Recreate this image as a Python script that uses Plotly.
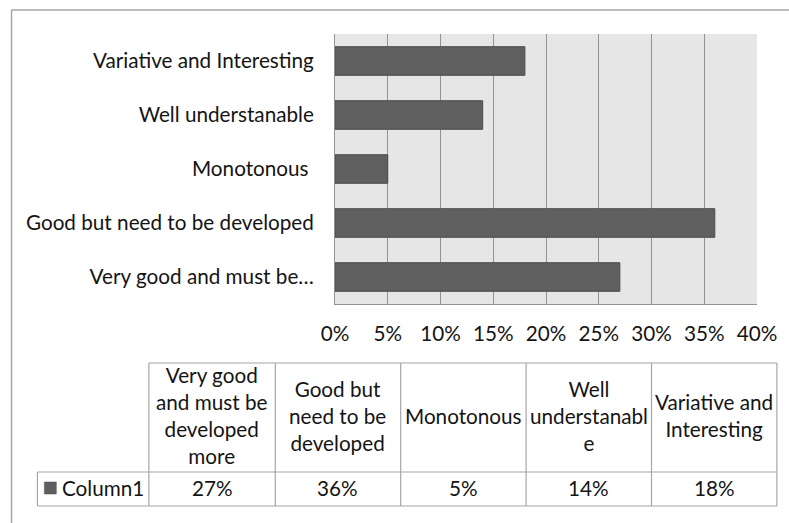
import plotly.graph_objects as go

# ---- data ----
categories = [
    "Very good and must be developed more",
    "Good but need to be developed",
    "Monotonous",
    "Well understanable",
    "Variative and Interesting",
]
axis_labels = [
    "Very good and must be…",
    "Good but need to be developed",
    "Monotonous\u00a0",
    "Well understanable",
    "Variative and Interesting",
]
table_headers = [
    "Very good<br>and must be<br>developed<br>more",
    "Good but<br>need to be<br>developed",
    "Monotonous",
    "Well<br>understanabl<br>e",
    "Variative and<br>Interesting",
]
values = [0.27, 0.36, 0.05, 0.14, 0.18]
series_name = "Column1"

FONT = "Lato"
FS = 20.7
TXT = "#141414"
BAR = "#5f5f5f"
GRID = "#939393"
BORDER = "#a6a6a6"

W, H = 789, 523
L, R, T, B = 335, 30, 34, 219
PW, PH = W - L - R, H - T - B


def px(x):
    return (x - L) / PW


def py(y):
    return (H - B - y) / PH


fig = go.Figure()
fig.add_trace(go.Bar(
    y=categories, x=values, orientation="h", name=series_name,
    marker=dict(color=BAR, line=dict(color="#4d4d4d", width=1)),
    showlegend=False, hoverinfo="x+y",
))

shapes = []
annotations = []

# outer chart border (cropped at right/bottom)
shapes.append(dict(type="line", xref="paper", yref="paper", x0=px(10), x1=px(800),
                   y0=py(10), y1=py(10), line=dict(color=BORDER, width=1.5)))
shapes.append(dict(type="line", xref="paper", yref="paper", x0=px(10), x1=px(10),
                   y0=py(10), y1=py(540), line=dict(color=BORDER, width=1.5)))

# data table
col_edges = [148, 275, 401, 527, 653, 779]
hdr_top, row_top, row_bot = 363, 472, 506
tl = dict(color=BORDER, width=1.2)
shapes.append(dict(type="line", xref="paper", yref="paper", x0=px(col_edges[0]), x1=px(col_edges[-1]),
                   y0=py(hdr_top), y1=py(hdr_top), line=tl))
for yy in (row_top, row_bot):
    shapes.append(dict(type="line", xref="paper", yref="paper", x0=px(36), x1=px(col_edges[-1]),
                       y0=py(yy), y1=py(yy), line=tl))
for xx in col_edges:
    shapes.append(dict(type="line", xref="paper", yref="paper", x0=px(xx), x1=px(xx),
                       y0=py(hdr_top), y1=py(row_bot), line=tl))
shapes.append(dict(type="line", xref="paper", yref="paper", x0=px(36), x1=px(36),
                   y0=py(row_top), y1=py(row_bot), line=tl))
# legend key square
shapes.append(dict(type="rect", xref="paper", yref="paper", x0=px(43), x1=px(55),
                   y0=py(482), y1=py(494), fillcolor=BAR, line=dict(color="#4d4d4d", width=0.5)))
annotations.append(dict(xref="paper", yref="paper", x=px(59), y=py(488), text=series_name,
                        showarrow=False, xanchor="left", yanchor="middle",
                        font=dict(family=FONT, size=FS, color=TXT)))

hdr_mid = (hdr_top + row_top) / 2 - 2
row_mid = (row_top + row_bot) / 2 - 1.5
for i, (hdr, v) in enumerate(zip(table_headers, values)):
    cx = (col_edges[i] + col_edges[i + 1]) / 2
    annotations.append(dict(xref="paper", yref="paper", x=px(cx), y=py(hdr_mid), text=hdr,
                            showarrow=False, xanchor="center", yanchor="middle", align="center",
                            font=dict(family=FONT, size=FS, color=TXT)))
    annotations.append(dict(xref="paper", yref="paper", x=px(cx), y=py(row_mid),
                            text=f"{round(v * 100)}%", showarrow=False,
                            xanchor="center", yanchor="middle",
                            font=dict(family=FONT, size=FS, color=TXT)))

fig.update_layout(
    width=W, height=H, autosize=False,
    margin=dict(l=L, r=R, t=T, b=B, pad=0),
    paper_bgcolor="white", plot_bgcolor="#e6e6e6",
    bargap=0.47,
    font=dict(family=FONT, size=FS, color=TXT),
    shapes=shapes, annotations=annotations,
    xaxis=dict(range=[0, 0.4], dtick=0.05, tickformat=".0%", showgrid=True,
               gridcolor=GRID, gridwidth=1, zeroline=False, showline=True,
               linecolor=GRID, linewidth=1, ticks="", ticklabelstandoff=11,
               tickfont=dict(family=FONT, size=FS, color=TXT), fixedrange=True),
    yaxis=dict(tickmode="array", tickvals=categories, ticktext=axis_labels,
               showgrid=False, zeroline=False, showline=True, linecolor=GRID,
               linewidth=1, ticks="", ticklabelstandoff=16,
               tickfont=dict(family=FONT, size=FS, color=TXT), fixedrange=True),
)

fig.write_html("out.html", config={"displayModeBar": False},
               post_script="document.body.style.margin='0';document.body.style.overflow='hidden';")
